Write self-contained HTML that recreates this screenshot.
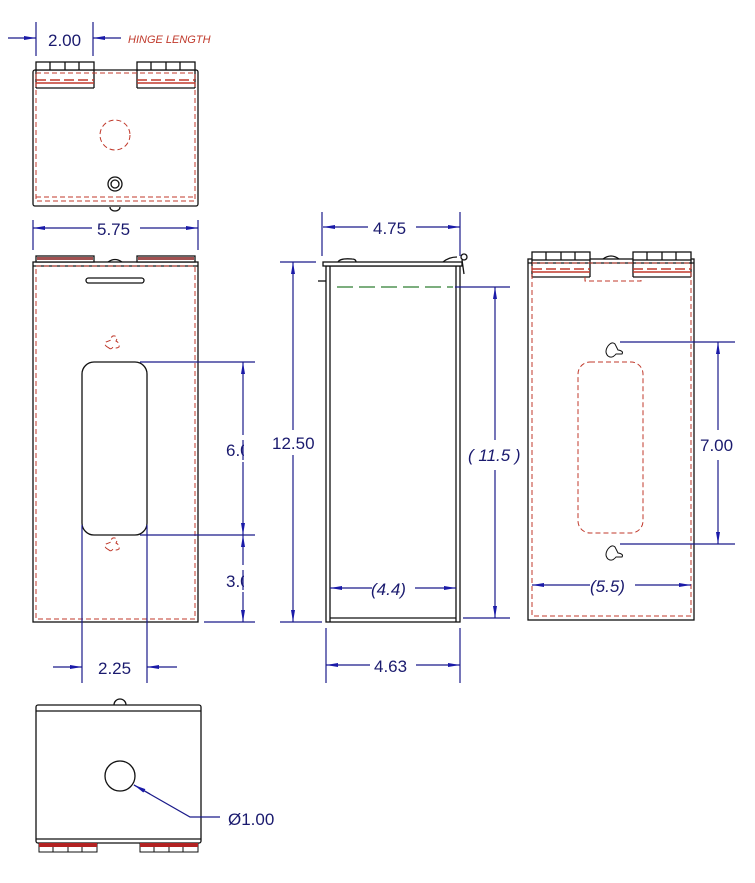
<!DOCTYPE html>
<html><head><meta charset="utf-8"><style>
html,body{margin:0;padding:0;background:#fff;}
svg{display:block;}
text{font-family:"Liberation Sans",sans-serif;fill:#1a1a6e;}
</style></head><body>
<svg width="755" height="883" viewBox="0 0 755 883" xmlns="http://www.w3.org/2000/svg">
<defs>
<marker id="a" viewBox="0 0 12 6" refX="12" refY="3" markerWidth="12" markerHeight="6" markerUnits="userSpaceOnUse" orient="auto-start-reverse"><path d="M0,1 L12,3 L0,5 Z" fill="#1a1aa8"/></marker>
</defs>

<g stroke="#111" stroke-width="1.3" fill="none">
<!-- TOP VIEW -->
<rect x="33" y="70" width="165" height="136" rx="2" fill="#fff"/>
<rect x="36" y="62" width="58" height="8" fill="#fff"/>
<line x1="50" y1="62" x2="50" y2="70"/><line x1="65" y1="62" x2="65" y2="70"/><line x1="79" y1="62" x2="79" y2="70"/>
<rect x="137" y="62" width="58" height="8" fill="#fff"/>
<line x1="151" y1="62" x2="151" y2="70"/><line x1="166" y1="62" x2="166" y2="70"/><line x1="180" y1="62" x2="180" y2="70"/>
<line x1="36" y1="70" x2="36" y2="88"/><line x1="94" y1="70" x2="94" y2="88"/><line x1="36" y1="88" x2="94" y2="88"/>
<line x1="137" y1="70" x2="137" y2="88"/><line x1="195" y1="70" x2="195" y2="88"/><line x1="137" y1="88" x2="195" y2="88"/>
<circle cx="115" cy="184" r="7"/><circle cx="115" cy="184" r="4"/>
<path d="M110,207 a5,4 0 0 0 10,0"/>
<!-- FRONT VIEW -->
<rect x="33" y="262" width="165" height="360" fill="#fff"/>
<line x1="33" y1="266" x2="198" y2="266"/>
<rect x="36" y="256" width="58" height="6" fill="#fff"/>
<rect x="137" y="256" width="58" height="6" fill="#fff"/>
<path d="M108,262 q7,-5 14,0"/>
<rect x="86" y="278" width="58" height="5" rx="2.5" fill="#fff"/>
<rect x="82" y="362" width="65" height="173" rx="12"/>
<!-- SIDE VIEW -->
<rect x="326" y="266" width="134" height="356"/>
<line x1="330" y1="266" x2="330" y2="622"/><line x1="456" y1="266" x2="456" y2="622"/>
<line x1="330" y1="618" x2="456" y2="618"/>
<rect x="323" y="262" width="139" height="4" fill="#fff"/>
<path d="M338,262 q2,-4 14,-3 q4,0 4,3"/>
<path d="M443,262 q6,-5 14,-5"/>
<circle cx="464" cy="257" r="3"/><path d="M462,260 l2,14"/>
<line x1="318" y1="281" x2="326" y2="281"/>
<!-- REAR VIEW -->
<rect x="528" y="259" width="166" height="361"/>
<line x1="528" y1="263" x2="694" y2="263"/>
<rect x="532" y="252" width="58" height="8" fill="#fff"/>
<line x1="546" y1="252" x2="546" y2="260"/><line x1="561" y1="252" x2="561" y2="260"/><line x1="575" y1="252" x2="575" y2="260"/>
<rect x="633" y="252" width="58" height="8" fill="#fff"/>
<line x1="647" y1="252" x2="647" y2="260"/><line x1="662" y1="252" x2="662" y2="260"/><line x1="676" y1="252" x2="676" y2="260"/>
<line x1="532" y1="260" x2="532" y2="277"/><line x1="590" y1="260" x2="590" y2="277"/><line x1="532" y1="277" x2="590" y2="277"/>
<line x1="633" y1="260" x2="633" y2="277"/><line x1="691" y1="260" x2="691" y2="277"/><line x1="633" y1="277" x2="691" y2="277"/>
<path d="M603,259 q8,-6 16,0"/>
<path d="M608,346 q-4,6 0,10 q4,3 8,-2 l6,0 q2,-3 -4,-4 l-3,-6 q-3,-3 -7,2z" stroke-width="1"/>
<path d="M608,549 q-4,6 0,10 q4,3 8,-2 l6,0 q2,-3 -4,-4 l-3,-6 q-3,-3 -7,2z" stroke-width="1"/>
<!-- BOTTOM VIEW -->
<rect x="36" y="705" width="165" height="138" rx="2" fill="#fff"/>
<line x1="36" y1="711" x2="201" y2="711"/>
<line x1="36" y1="839" x2="201" y2="839"/>
<path d="M114,705 a6,6 0 0 1 12,0"/>
<circle cx="120" cy="776" r="15"/>
</g>

<!-- red dashed hidden lines -->
<g stroke="#c0392b" stroke-width="1" fill="none" stroke-dasharray="5,3">
<rect x="36" y="73" width="159" height="128"/>
<line x1="36" y1="197" x2="195" y2="197"/>
<circle cx="115" cy="135" r="15"/>
<rect x="36" y="266" width="159" height="353"/>
<path d="M109,348 q-6,-3 -3,-6 q3,-1 5,-2 q0,-5 4,-4 q3,2 1,5 q4,2 3,6 q-3,2 -6,0 q-2,3 -4,1z"/>
<path d="M109,550 q-6,-3 -3,-6 q3,-1 5,-2 q0,-5 4,-4 q3,2 1,5 q4,2 3,6 q-3,2 -6,0 q-2,3 -4,1z"/>
<rect x="532" y="263" width="159" height="353"/>
<rect x="578" y="362" width="65" height="171" rx="12"/>
<path d="M585,277 v4 h56 v-4"/>
</g>
<g stroke="#c0392b" stroke-width="1.6">
<line x1="36" y1="80" x2="94" y2="80" stroke-dasharray="10,4"/>
<line x1="36" y1="83" x2="94" y2="83"/>
<line x1="137" y1="80" x2="195" y2="80" stroke-dasharray="10,4"/>
<line x1="137" y1="83" x2="195" y2="83"/>
<line x1="532" y1="269" x2="590" y2="269" stroke-dasharray="10,4"/>
<line x1="532" y1="272" x2="590" y2="272"/>
<line x1="633" y1="269" x2="691" y2="269" stroke-dasharray="10,4"/>
<line x1="633" y1="272" x2="691" y2="272"/>
</g>
<rect x="37" y="257" width="56" height="3" fill="#a05050"/>
<rect x="138" y="257" width="56" height="3" fill="#a05050"/>
<line x1="337" y1="287" x2="453" y2="287" stroke="#2e7d32" stroke-width="1.2" stroke-dasharray="16,6"/>
<g stroke="#111" stroke-width="1">
<rect x="39" y="843" width="58" height="9" fill="#fff"/>
<rect x="140" y="843" width="58" height="9" fill="#fff"/>
</g>
<rect x="39" y="843" width="58" height="4" fill="#b22222"/>
<rect x="140" y="843" width="58" height="4" fill="#b22222"/>
<g stroke="#111" stroke-width="1">
<line x1="53" y1="847" x2="53" y2="852"/><line x1="68" y1="847" x2="68" y2="852"/><line x1="82" y1="847" x2="82" y2="852"/>
<line x1="154" y1="847" x2="154" y2="852"/><line x1="169" y1="847" x2="169" y2="852"/><line x1="183" y1="847" x2="183" y2="852"/>
</g>

<!-- dimensions on top -->
<g stroke="#1a1a8a" stroke-width="1.2" fill="none">
<line x1="36" y1="22" x2="36" y2="56"/><line x1="93" y1="22" x2="93" y2="56"/>
<line x1="8" y1="38" x2="36" y2="38" marker-end="url(#a)"/>
<line x1="121" y1="38" x2="93" y2="38" marker-end="url(#a)"/>
<line x1="33" y1="220" x2="33" y2="250"/><line x1="198" y1="220" x2="198" y2="250"/>
<line x1="92" y1="228" x2="33" y2="228" marker-end="url(#a)"/>
<line x1="140" y1="228" x2="198" y2="228" marker-end="url(#a)"/>
<line x1="140" y1="362" x2="255" y2="362"/><line x1="140" y1="535" x2="255" y2="535"/>
<line x1="204" y1="622" x2="255" y2="622"/>
<line x1="243" y1="435" x2="243" y2="362" marker-end="url(#a)"/>
<line x1="243" y1="462" x2="243" y2="535" marker-end="url(#a)"/>
<line x1="243" y1="565" x2="243" y2="535" marker-end="url(#a)"/>
<line x1="243" y1="592" x2="243" y2="622" marker-end="url(#a)"/>
<line x1="82" y1="525" x2="82" y2="683"/><line x1="147" y1="525" x2="147" y2="683"/>
<line x1="53" y1="667" x2="82" y2="667" marker-end="url(#a)"/>
<line x1="177" y1="667" x2="147" y2="667" marker-end="url(#a)"/>
<line x1="322" y1="212" x2="322" y2="256"/><line x1="460" y1="212" x2="460" y2="256"/>
<line x1="368" y1="227" x2="323" y2="227" marker-end="url(#a)"/>
<line x1="416" y1="227" x2="460" y2="227" marker-end="url(#a)"/>
<line x1="280" y1="262" x2="316" y2="262"/><line x1="280" y1="622" x2="322" y2="622"/>
<line x1="293" y1="430" x2="293" y2="262" marker-end="url(#a)"/>
<line x1="293" y1="455" x2="293" y2="622" marker-end="url(#a)"/>
<line x1="455" y1="287" x2="510" y2="287"/><line x1="463" y1="618" x2="510" y2="618"/>
<line x1="495" y1="440" x2="495" y2="287" marker-end="url(#a)"/>
<line x1="495" y1="470" x2="495" y2="618" marker-end="url(#a)"/>
<line x1="372" y1="588" x2="330" y2="588" marker-end="url(#a)"/>
<line x1="415" y1="588" x2="456" y2="588" marker-end="url(#a)"/>
<line x1="326" y1="628" x2="326" y2="683"/><line x1="460" y1="628" x2="460" y2="683"/>
<line x1="370" y1="665" x2="326" y2="665" marker-end="url(#a)"/>
<line x1="416" y1="665" x2="460" y2="665" marker-end="url(#a)"/>
<line x1="620" y1="342" x2="735" y2="342"/><line x1="620" y1="544" x2="735" y2="544"/>
<line x1="718" y1="430" x2="718" y2="342" marker-end="url(#a)"/>
<line x1="718" y1="460" x2="718" y2="544" marker-end="url(#a)"/>
<line x1="590" y1="585" x2="532" y2="585" marker-end="url(#a)"/>
<line x1="635" y1="585" x2="691" y2="585" marker-end="url(#a)"/>
<polyline points="220,817 190,817 134,785" />
<line x1="150" y1="794" x2="134" y2="785" marker-end="url(#a)"/>
</g>

<text x="48" y="46" font-size="17">2.00</text>
<text x="128" y="43" font-size="11" font-style="italic" style="fill:#c0392b">HINGE LENGTH</text>
<text x="97" y="235" font-size="17">5.75</text>
<text x="226" y="456" font-size="17">6.0</text>
<rect x="244" y="440" width="10" height="20" fill="#fff"/>
<text x="226" y="587" font-size="17">3.0</text>
<rect x="244" y="570" width="10" height="20" fill="#fff"/>
<line x1="243" y1="440" x2="243" y2="460" stroke="#1a1a8a" stroke-width="1.2"/>
<line x1="243" y1="570" x2="243" y2="590" stroke="#1a1a8a" stroke-width="1.2"/>
<text x="98" y="674" font-size="17">2.25</text>
<text x="373" y="234" font-size="17">4.75</text>
<text x="272" y="449" font-size="17">12.50</text>
<text x="468" y="461" font-size="17" font-style="italic">( 11.5 )</text>
<text x="371" y="595" font-size="17" font-style="italic">(4.4)</text>
<text x="374" y="672" font-size="17">4.63</text>
<text x="700" y="451" font-size="17">7.00</text>
<text x="590" y="592" font-size="17" font-style="italic">(5.5)</text>
<text x="228" y="825" font-size="17">Ø1.00</text>
</svg>
</body></html>
